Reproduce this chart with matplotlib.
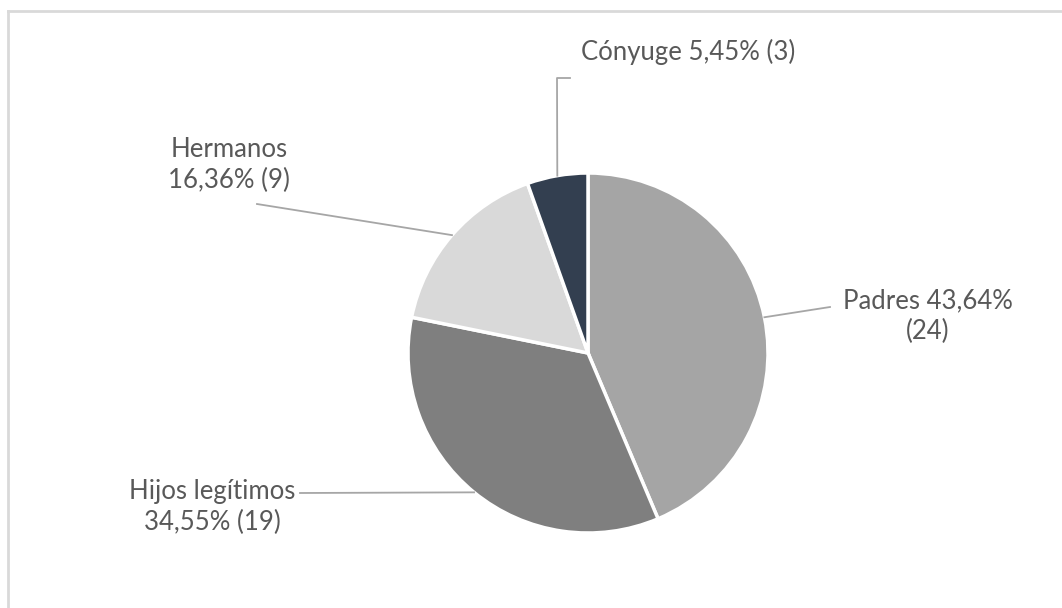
import matplotlib.pyplot as plt
import numpy as np
from matplotlib.lines import Line2D

plt.rcParams['font.family'] = ['Lato', 'DejaVu Sans']

labels = ['Padres', 'Hijos legítimos', 'Hermanos', 'Cónyuge']
counts = [24, 19, 9, 3]
colors = ['#A5A5A5', '#7F7F7F', '#D9D9D9', '#333F50']

total = sum(counts)
pcts = [c / total * 100 for c in counts]

def fmt(p):
    return ('%.2f' % p).replace('.', ',') + '%'

fig = plt.figure(figsize=(10.62, 6.08), dpi=100)
W, H = 1062, 608
cx, cy, r = 588, 353, 180
ax = fig.add_axes([(cx - r) / W, (H - cy - r) / H, 2 * r / W, 2 * r / H])

wedges, _ = ax.pie(counts, colors=colors, startangle=90, counterclock=False,
                   radius=1, wedgeprops=dict(edgecolor='white', linewidth=2.5))
ax.set_xlim(-1, 1)
ax.set_ylim(-1, 1)
ax.axis('off')

def px(x, y):
    # pixel position -> data coords
    return (x - cx) / r, (cy - y) / r

txt_color = '#595959'
line_color = '#A6A6A6'
fs = 18.5
ls = 1.25

# anchors at wedge mid-angles
anchors = []
for w in wedges:
    a = np.deg2rad((w.theta1 + w.theta2) / 2)
    anchors.append((np.cos(a), np.sin(a)))

# Padres
x1, y1 = px(830, 307)
ax.plot([anchors[0][0], x1], [anchors[0][1], y1], color=line_color, lw=1.3, clip_on=False)
tx, ty = px(928, 316)
ax.text(tx, ty, '%s %s\n(%d)' % (labels[0], fmt(pcts[0]), counts[0]), ha='center', va='center',
        fontsize=fs, color=txt_color, linespacing=ls)

# Hijos
x1, y1 = px(300, 493)
ax.plot([anchors[1][0], x1], [anchors[1][1], y1], color=line_color, lw=1.3, clip_on=False)
tx, ty = px(212, 507)
ax.text(tx, ty, '%s\n%s (%d)' % (labels[1], fmt(pcts[1]), counts[1]), ha='center', va='center',
        fontsize=fs, color=txt_color, linespacing=ls)

# Hermanos
x1, y1 = px(257, 204)
ax.plot([anchors[2][0], x1], [anchors[2][1], y1], color=line_color, lw=1.3, clip_on=False)
tx, ty = px(229, 165)
ax.text(tx, ty, '%s\n%s (%d)' % (labels[2], fmt(pcts[2]), counts[2]), ha='center', va='center',
        fontsize=fs, color=txt_color, linespacing=ls)

# Conyuge
xv, yv = px(557, 78)
xh, _ = px(570, 78)
ax.plot([anchors[3][0], xv, xh], [anchors[3][1], yv, yv], color=line_color, lw=1.3, clip_on=False)
tx, ty = px(688, 52)
ax.text(tx, ty, '%s %s (%d)' % (labels[3], fmt(pcts[3]), counts[3]), ha='center', va='center',
        fontsize=fs, color=txt_color)

# chart frame (top and left edges visible)
fig.add_artist(Line2D([8 / W, 1], [1 - 11 / H, 1 - 11 / H], color='#D9D9D9', lw=2))
fig.add_artist(Line2D([8 / W, 8 / W], [0, 1 - 11 / H], color='#D9D9D9', lw=2))

fig.savefig('out.png', dpi=100)
